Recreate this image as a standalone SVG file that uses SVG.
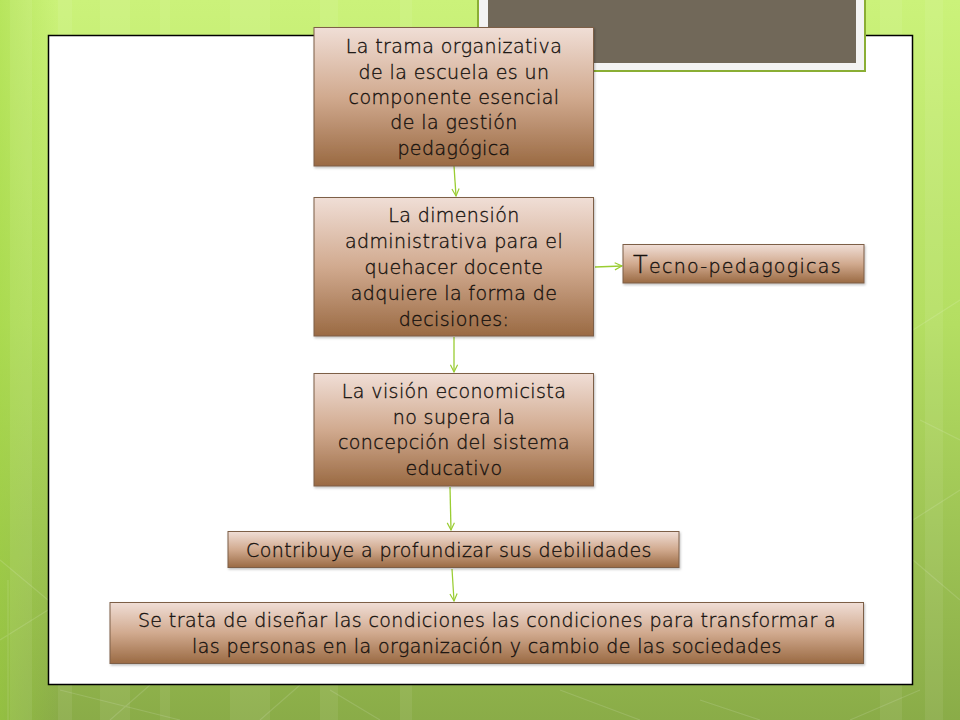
<svg xmlns="http://www.w3.org/2000/svg" width="960" height="720" viewBox="0 0 960 720">
<defs>
<linearGradient id="bg" x1="0" y1="0" x2="0" y2="1">
<stop offset="0" stop-color="#cbf27a"/>
<stop offset="0.45" stop-color="#b4de62"/>
<stop offset="1" stop-color="#8aac48"/>
</linearGradient>
<linearGradient id="bgside" x1="0" y1="0" x2="1" y2="0">
<stop offset="0" stop-color="#9fd63a" stop-opacity="0.45"/>
<stop offset="0.06" stop-color="#9fd63a" stop-opacity="0"/>
<stop offset="1" stop-color="#9fd63a" stop-opacity="0"/>
</linearGradient>
<linearGradient id="box" x1="0" y1="0" x2="0" y2="1">
<stop offset="0" stop-color="#f0ded6"/>
<stop offset="0.5" stop-color="#d1aa8f"/>
<stop offset="1" stop-color="#9a6a43"/>
</linearGradient>
<marker id="ah" viewBox="0 0 10 10" refX="9" refY="5" markerWidth="9" markerHeight="9" markerUnits="userSpaceOnUse" orient="auto">
<path d="M1,1 L9,5 L1,9" fill="none" stroke="#9acd32" stroke-width="1.3"/>
</marker>
<filter id="sh" x="-5%" y="-5%" width="110%" height="115%">
<feDropShadow dx="1" dy="1.5" stdDeviation="1" flood-color="#000" flood-opacity="0.25"/>
</filter>
</defs>
<style>
.bx{fill:url(#box);stroke:#7d5f46;stroke-width:1;filter:url(#sh)}
.t{font-family:"DejaVu Sans","Liberation Sans",sans-serif;font-size:19px;font-weight:300;fill:#17120f;stroke:#17120f;stroke-width:0.35px;letter-spacing:0.4px}
.c{text-anchor:middle}
.cn{fill:none;stroke:#9acd32;stroke-width:1.3;marker-end:url(#ah)}
.st{fill:#ffffff;opacity:0.07}
.dg{stroke:#ffffff;stroke-opacity:0.13;stroke-width:1.2;fill:none}
</style>
<g id="background">
<rect x="0" y="0" width="960" height="720" fill="url(#bg)"/>
<rect x="0" y="0" width="960" height="720" fill="url(#bgside)"/>
<rect class="st" x="10" y="0" width="22" height="720"/>
<rect class="st" x="58" y="0" width="14" height="720"/>
<rect class="st" x="100" y="0" width="30" height="720"/>
<rect class="st" x="160" y="0" width="10" height="720"/>
<rect class="st" x="230" y="0" width="40" height="720"/>
<rect class="st" x="320" y="0" width="18" height="720"/>
<rect class="st" x="400" y="0" width="12" height="720"/>
<rect class="st" x="880" y="0" width="22" height="720"/>
<rect class="st" x="925" y="0" width="18" height="720"/>
<path class="dg" d="M0,560 L48,600 M0,640 L48,610 M8,580 L8,720 M60,690 L180,720 M150,685 L110,720 M260,720 L300,685 M380,720 L330,690 M560,690 L640,720 M700,700 L760,720 M850,720 L920,690 M913,330 L960,300 M913,520 L960,490 M913,560 L960,600 M920,420 L960,440"/>
</g>
<g id="panel">
<rect x="48.5" y="35.5" width="864" height="649" fill="#ffffff" stroke="#000000" stroke-width="1.5"/>
</g>
<g id="title-frame">
<rect x="478" y="-4" width="387" height="75" fill="#f3f3f3" stroke="#8aae34" stroke-width="2"/>
<rect x="488" y="0" width="368" height="63" fill="#716859"/>
</g>
<g id="connectors">
<line class="cn" x1="454" y1="166" x2="456" y2="196"/>
<line class="cn" x1="454" y1="337" x2="454" y2="372"/>
<line class="cn" x1="450" y1="487" x2="451" y2="530"/>
<line class="cn" x1="452" y1="569" x2="454" y2="601"/>
<line class="cn" x1="595" y1="267" x2="622" y2="266"/>
</g>
<g id="node1">
<rect class="bx" x="314" y="27.5" width="279.5" height="138.5"/>
<text class="t c" x="454" y="53">La trama organizativa</text>
<text class="t c" x="454" y="78.5">de la escuela es un</text>
<text class="t c" x="454" y="104">componente esencial</text>
<text class="t c" x="454" y="129">de la gestión</text>
<text class="t c" x="454" y="154.5">pedagógica</text>
</g>
<g id="node2">
<rect class="bx" x="314" y="197.5" width="279.5" height="138.5"/>
<text class="t c" x="454" y="221.5">La dimensión</text>
<text class="t c" x="454" y="247.5">administrativa  para el</text>
<text class="t c" x="454" y="273.5">quehacer docente</text>
<text class="t c" x="454" y="299.5">adquiere la forma de</text>
<text class="t c" x="454" y="325.5">decisiones:</text>
</g>
<g id="node3">
<rect class="bx" x="623" y="244.5" width="241" height="38.5"/>
<text class="t" x="633" y="273" style="letter-spacing:1.3px"><tspan font-size="24px">T</tspan>ecno-pedagogicas</text>
</g>
<g id="node4">
<rect class="bx" x="314" y="373.5" width="279.5" height="112.5"/>
<text class="t c" x="454" y="398">La visión economicista</text>
<text class="t c" x="454" y="423.5">no supera la</text>
<text class="t c" x="454" y="449">concepción del sistema</text>
<text class="t c" x="454" y="474.5">educativo</text>
</g>
<g id="node5">
<rect class="bx" x="228" y="531.5" width="451" height="36"/>
<text class="t c" x="449" y="556.5">Contribuye  a profundizar sus debilidades</text>
</g>
<g id="node6">
<rect class="bx" x="110" y="602.5" width="753.5" height="61"/>
<text class="t c" x="487" y="626.5">Se trata de diseñar las condiciones las condiciones para transformar a</text>
<text class="t c" x="487" y="652.5">las personas en la organización y cambio de las sociedades</text>
</g>
</svg>
